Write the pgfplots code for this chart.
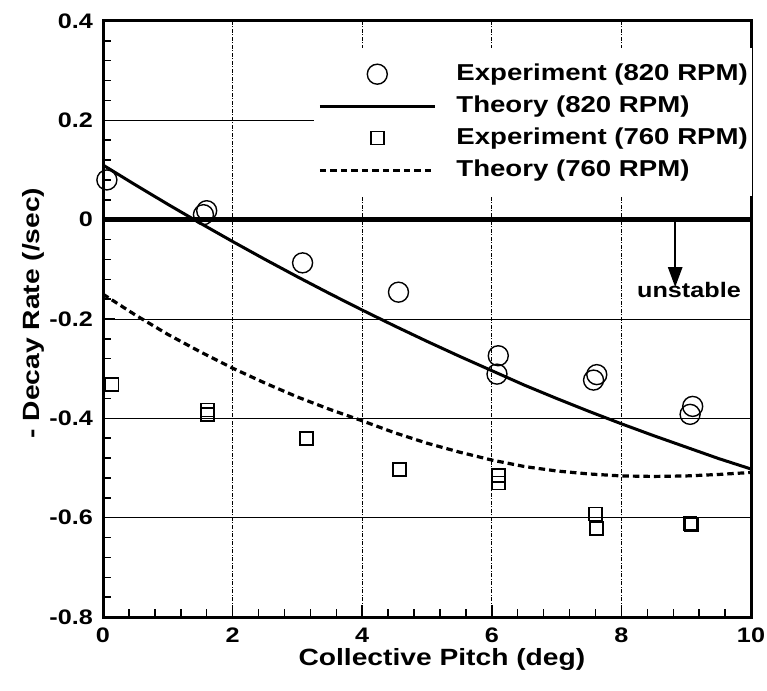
\documentclass[border=0pt]{standalone}
\usepackage{fontspec}
\setmainfont{Liberation Sans}[FakeStretch=1.2]
\usepackage{pgfplots}
\pgfplotsset{compat=1.18}
\usetikzlibrary{arrows.meta}

% legend pictograms: a marker centred on a 115pt slot, or a 115pt line
\pgfplotsset{
  legmark/.style={legend image code/.code={%
      \path[draw=none, fill=none] (0pt,-10pt) (115pt,10pt);
      \draw[##1] plot[only marks] coordinates {(57.5pt,0pt)};}},
  legline/.style={legend image code/.code={%
      \draw[##1] plot coordinates {(0pt,0pt) (115pt,0pt)};}},
}

\begin{document}
\begin{tikzpicture}
\useasboundingbox (0,0) rectangle (767pt,690pt);
\begin{axis}[
  at={(103pt,73pt)}, anchor=south west,
  width=648pt, height=596pt, scale only axis,
  xmin=0, xmax=10, ymin=-0.8, ymax=0.4,
  xtick={0,2,4,6,8,10},
  xticklabels={0,2,4,6,8,10},
  ytick={-0.8,-0.6,-0.4,-0.2,0,0.2,0.4},
  yticklabels={-0.8,-0.6,-0.4,-0.2,0,0.2,0.4},
  minor x tick num=4, minor y tick num=4,
  tick align=inside, tick pos=left,
  major tick length=12pt, minor tick length=8pt,
  tick style={line width=1.5pt, black},
  axis line style={line width=3pt},
  xmajorgrids, ymajorgrids,
  x grid style={line width=0.8pt, black, dash pattern=on 4pt off 1.5pt on 1pt off 1.5pt},
  y grid style={line width=0.8pt, black},
  ticklabel style={font=\fontsize{21}{24}\selectfont\bfseries},
  xticklabel style={inner sep=0pt, yshift=-11pt},
  yticklabel style={inner sep=0pt, xshift=-10pt},
  xlabel={Collective Pitch (deg)},
  ylabel={- Decay Rate (/sec)},
  label style={font=\fontsize{23.5}{27}\selectfont\bfseries},
  xlabel style={at={(axis description cs:0.523,-0.0810)}, anchor=base},
  ylabel style={at={(axis description cs:-0.108,0.51)}, anchor=center},
  legend style={
    at={(axis description cs:0.3256,0.9547)}, anchor=north west,
    draw=none, fill=white, inner xsep=4pt, inner ysep=15pt,
    column sep=20pt, row sep=10pt,
    font=\fontsize{23}{26}\selectfont\bfseries,
    nodes={inner sep=0pt, text height=17pt, text depth=5pt},
  },
  legend cell align=left,
]

% stability boundary
\addplot[black, line width=5pt, forget plot] coordinates {(0,0) (10,0)};

% 820 RPM measurements
\addplot[only marks, mark=o, mark size=10pt, black,
  mark options={line width=1.4pt}, legmark] coordinates {
  (0.06,0.080) (1.55,0.010) (1.60,0.018) (3.08,-0.087) (4.56,-0.146)
  (6.10,-0.274) (6.08,-0.311) (7.57,-0.323) (7.62,-0.312)
  (9.10,-0.376) (9.06,-0.392)
};
\addlegendentry{Experiment (820 RPM)}

% 820 RPM prediction
\addplot[black, line width=3pt, legline] coordinates {
  (0,0.110) (0.5,0.070) (1,0.031) (1.5,-0.007) (2,-0.044) (2.5,-0.080)
  (3,-0.115) (3.5,-0.149) (4,-0.182) (4.5,-0.214) (5,-0.245) (5.5,-0.275)
  (6,-0.304) (6.5,-0.333) (7,-0.360) (7.5,-0.386) (8,-0.411) (8.5,-0.435)
  (9,-0.458) (9.5,-0.481) (10,-0.502)
};
\addlegendentry{Theory (820 RPM)}

% 760 RPM measurements
\addplot[only marks, mark=square, mark size=6.5pt, black,
  mark options={line width=1.6pt}, legmark] coordinates {
  (0.14,-0.332) (1.61,-0.383) (1.61,-0.392) (3.14,-0.441) (4.58,-0.503)
  (6.10,-0.515) (6.10,-0.530) (7.60,-0.593) (7.62,-0.622)
  (9.06,-0.612) (9.08,-0.615)
};
\addlegendentry{Experiment (760 RPM)}

% 760 RPM prediction
\addplot[black, line width=3.2pt, dash pattern=on 6.5pt off 4pt, legline] coordinates {
  (0,-0.150) (0.5,-0.192) (1,-0.231) (1.5,-0.266) (2,-0.299) (2.5,-0.329)
  (3,-0.357) (3.5,-0.382) (4,-0.405) (4.5,-0.429) (5,-0.450) (5.5,-0.468)
  (6,-0.484) (6.5,-0.497) (7,-0.506) (7.5,-0.512) (8,-0.516) (8.5,-0.517)
  (9,-0.516) (9.5,-0.513) (10,-0.509)
};
\addlegendentry{Theory (760 RPM)}

% instability annotation
\draw[line width=2.5pt, -{Triangle[length=20pt, width=14pt]}]
  (axis cs:8.83,0) -- (axis cs:8.83,-0.136);
\node[anchor=base west, inner sep=0pt, font=\fontsize{21}{24}\selectfont\bfseries]
  at (axis cs:8.24,-0.1565) {unstable};
\end{axis}
\end{tikzpicture}
\end{document}
